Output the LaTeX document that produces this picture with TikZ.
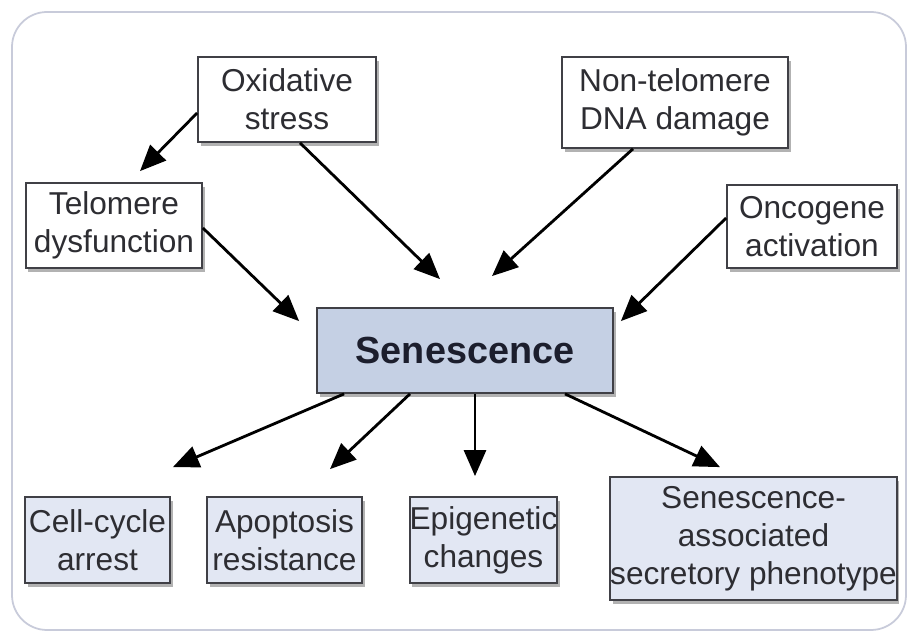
\documentclass[tikz,border=0pt]{standalone}
\usepackage{fontspec}
\setmainfont{Liberation Sans}
\usetikzlibrary{arrows.meta,shadows}
\definecolor{frameline}{RGB}{200,203,218}
\definecolor{senfill}{RGB}{197,208,228}
\definecolor{outfill}{RGB}{226,231,243}
\definecolor{boxline}{RGB}{64,64,70}
\definecolor{boxtext}{RGB}{45,45,50}
\definecolor{sentext}{RGB}{28,30,45}
\begin{document}
\begin{tikzpicture}[
	box/.style={shape=rectangle, draw=boxline, line width=1pt, align=center, inner sep=0pt, text=boxtext,
		font=\fontsize{18}{21.5}\selectfont,
		drop shadow={shadow xshift=0.05cm, shadow yshift=-0.09cm, opacity=0.3, fill=black}},
	cause/.style={box, fill=white},
	effect/.style={box, fill=outfill},
	arr/.style={line width=1.6pt, -{Triangle[length=0.52cm, width=0.44cm]}}]
	\useasboundingbox (0, 0) rectangle (18.2, 12.7);
	\draw[frameline, line width=1pt, fill=white, rounded corners=0.7cm] (0.24, 0.1) rectangle (18.12, 12.46);
	% causes
	\node[cause, minimum width=3.56cm, minimum height=1.7cm] (ox) at (5.74, 10.71) {Oxidative\\stress};
	\node[cause, minimum width=3.52cm, minimum height=1.7cm] (tel) at (2.28, 8.19) {Telomere\\dysfunction};
	\node[cause, minimum width=4.52cm, minimum height=1.82cm] (dna) at (13.5, 10.65) {Non-telomere\\DNA damage};
	\node[cause, minimum width=3.4cm, minimum height=1.66cm] (onc) at (16.24, 8.17) {Oncogene\\activation};
	% centre
	\node[box, fill=senfill, text=sentext, minimum width=5.92cm, minimum height=1.7cm, font=\fontsize{21.5}{24}\selectfont\bfseries] (sen) at (9.3, 5.69) {Senescence};
	% effects
	\node[effect, minimum width=2.9cm, minimum height=1.72cm] (cell) at (1.95, 1.9) {Cell-cycle\\arrest};
	\node[effect, minimum width=3.1cm, minimum height=1.72cm] (apo) at (5.69, 1.9) {Apoptosis\\resistance};
	\node[effect, minimum width=2.94cm, minimum height=1.72cm] (epi) at (9.67, 1.9) {Epigenetic\\changes};
	\node[effect, minimum width=5.66cm, minimum height=2.46cm] (sasp) at (15.07, 1.93) {Senescence-\\associated\\secretory phenotype};
	% arrows in
	\draw[arr] ([yshift=-0.27cm]ox.west) -- ([xshift=0.52cm, yshift=0.22cm]tel.north);
	\draw[arr] ([xshift=0.26cm]ox.south) -- ([xshift=-0.5cm, yshift=0.56cm]sen.north);
	\draw[arr] ([yshift=-0.05cm]tel.east) -- ([xshift=-0.34cm, yshift=-0.28cm]sen.north west);
	\draw[arr] ([xshift=-0.84cm]dna.south) -- ([xshift=0.54cm, yshift=0.62cm]sen.north);
	\draw[arr] ([yshift=0.17cm]onc.west) -- ([xshift=0.14cm, yshift=-0.28cm]sen.north east);
	% arrows out
	\draw[arr] ([xshift=0.56cm]sen.south west) -- ([xshift=0.04cm, yshift=0.58cm]cell.north east);
	\draw[arr] ([xshift=-1.1cm]sen.south) -- ([xshift=0.91cm, yshift=0.54cm]apo.north);
	\draw[arr] ([xshift=0.2cm]sen.south) -- ([xshift=-0.17cm, yshift=0.4cm]epi.north);
	\draw[arr] ([xshift=2cm]sen.south) -- ([xshift=-0.67cm, yshift=0.18cm]sasp.north);
\end{tikzpicture}
\end{document}
